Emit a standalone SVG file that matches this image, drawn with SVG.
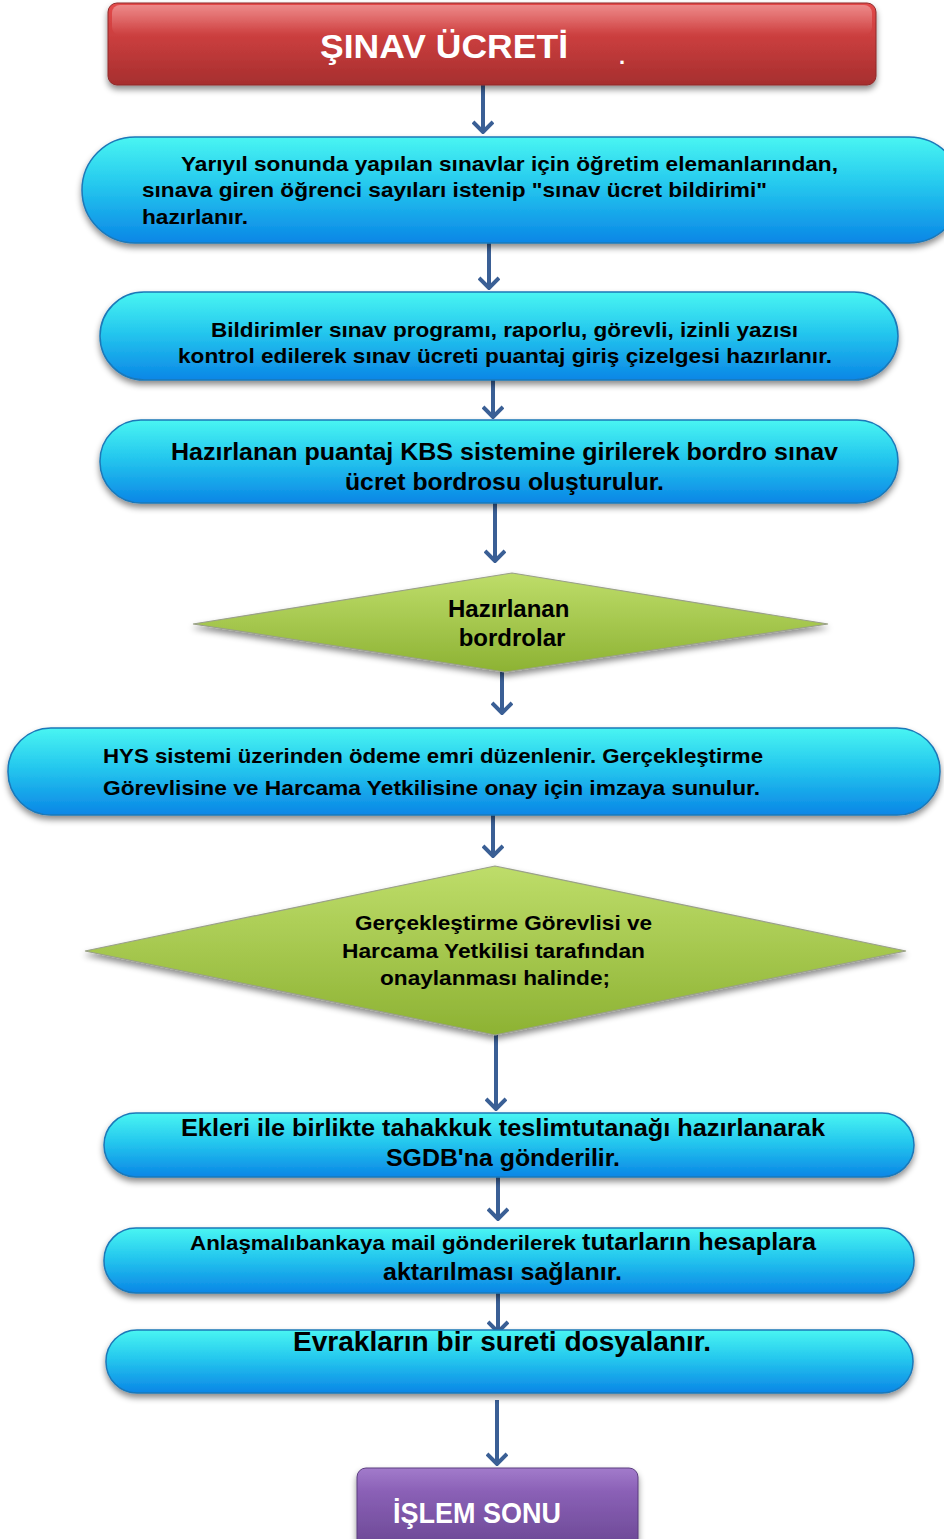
<svg xmlns="http://www.w3.org/2000/svg" width="944" height="1539" viewBox="0 0 944 1539">
  <defs>
    <linearGradient id="gBlue" x1="0" y1="0" x2="0" y2="1">
      <stop offset="0" stop-color="#49F5F2"/>
      <stop offset="0.45" stop-color="#25C8EE"/>
      <stop offset="1" stop-color="#0A86E6"/>
    </linearGradient>
    <linearGradient id="gRed" x1="0" y1="0" x2="0" y2="1">
      <stop offset="0" stop-color="#E44A4A"/>
      <stop offset="1" stop-color="#A62E2E"/>
    </linearGradient>
    <linearGradient id="gPurple" x1="0" y1="0" x2="0" y2="1">
      <stop offset="0" stop-color="#A27BCB"/>
      <stop offset="0.3" stop-color="#8A60B6"/>
      <stop offset="1" stop-color="#6B4894"/>
    </linearGradient>
    <linearGradient id="gGreen" x1="0" y1="0" x2="0" y2="1">
      <stop offset="0" stop-color="#BEDD6A"/>
      <stop offset="1" stop-color="#8DB233"/>
    </linearGradient>
    <linearGradient id="gShine" x1="0" y1="0" x2="0" y2="1">
      <stop offset="0" stop-color="#FFFFFF" stop-opacity="0.35"/>
      <stop offset="1" stop-color="#FFFFFF" stop-opacity="0"/>
    </linearGradient>
    <filter id="shadow" x="-5%" y="-20%" width="110%" height="150%">
      <feDropShadow dx="0" dy="4" stdDeviation="3" flood-color="#000" flood-opacity="0.45"/>
    </filter>
    <!-- open chevron head; drawn along +x so orient="auto" points it down the line -->
    <marker id="chev" viewBox="0 0 14 22" refX="12" refY="11" markerWidth="14" markerHeight="22" markerUnits="userSpaceOnUse" orient="auto">
      <polyline points="2,1 12,11 2,21" fill="none" stroke="#3A5F95" stroke-width="4"/>
    </marker>
    <style>
      .pill { fill: url(#gBlue); stroke: #1B78B8; stroke-width: 1.5; filter: url(#shadow); }
      .dia { fill: url(#gGreen); stroke: #9AA08A; stroke-width: 1.2; filter: url(#shadow); }
      .t { font-family: "Liberation Sans", Arial, sans-serif; font-weight: bold; fill: #000; }
      .w { font-family: "Liberation Sans", Arial, sans-serif; font-weight: bold; fill: #FFF; }
      .arr { stroke: #3A5F95; stroke-width: 4; fill: none; marker-end: url(#chev); }
    </style>
  </defs>

  <rect width="944" height="1539" fill="#FFFFFF"/>

  <!-- connectors -->
  <g id="connectors">
    <line class="arr" x1="483" y1="85" x2="483" y2="132"/>
    <line class="arr" x1="489" y1="243" x2="489" y2="288"/>
    <line class="arr" x1="493" y1="380" x2="493" y2="417"/>
    <line class="arr" x1="495" y1="503" x2="495" y2="561"/>
    <line class="arr" x1="502" y1="672" x2="502" y2="713"/>
    <line class="arr" x1="493" y1="815" x2="493" y2="856"/>
    <line class="arr" x1="496" y1="1035" x2="496" y2="1109"/>
    <line class="arr" x1="498" y1="1177" x2="498" y2="1219"/>
    <line class="arr" x1="498" y1="1293" x2="498" y2="1332"/>
    <line class="arr" x1="497" y1="1400" x2="497" y2="1464"/>
  </g>

  <!-- start -->
  <g id="n-start">
    <rect x="108" y="3" width="768" height="82" rx="9" fill="url(#gRed)" stroke="#8E2A2A" stroke-width="1" filter="url(#shadow)"/>
    <rect x="112" y="5" width="760" height="30" rx="8" fill="url(#gShine)"/>
    <text class="w" x="320" y="58" font-size="33" textLength="248" lengthAdjust="spacingAndGlyphs">ŞINAV ÜCRETİ</text>
    <text class="w" x="619" y="64" font-size="22">.</text>
  </g>

  <!-- step 1 -->
  <g id="n-step1">
    <rect class="pill" x="82" y="137" width="880" height="106" rx="53"/>
    <text class="t" font-size="21">
      <tspan x="181" y="171" textLength="657" lengthAdjust="spacingAndGlyphs">Yarıyıl sonunda yapılan sınavlar için öğretim elemanlarından,</tspan>
      <tspan x="142" y="197" textLength="625" lengthAdjust="spacingAndGlyphs">sınava giren öğrenci sayıları istenip "sınav ücret bildirimi"</tspan>
      <tspan x="142" y="224" textLength="106" lengthAdjust="spacingAndGlyphs">hazırlanır.</tspan>
    </text>
  </g>

  <!-- step 2 -->
  <g id="n-step2">
    <rect class="pill" x="100" y="292" width="798" height="88" rx="44"/>
    <text class="t" font-size="21">
      <tspan x="211" y="337" textLength="587" lengthAdjust="spacingAndGlyphs">Bildirimler sınav programı, raporlu, görevli, izinli yazısı</tspan>
      <tspan x="178" y="363" textLength="654" lengthAdjust="spacingAndGlyphs">kontrol edilerek sınav ücreti puantaj giriş çizelgesi hazırlanır.</tspan>
    </text>
  </g>

  <!-- step 3 -->
  <g id="n-step3">
    <rect class="pill" x="100" y="420" width="798" height="83" rx="41"/>
    <text class="t" font-size="24">
      <tspan x="171" y="460" textLength="667" lengthAdjust="spacingAndGlyphs">Hazırlanan puantaj KBS sistemine girilerek bordro sınav</tspan>
      <tspan x="345" y="490" textLength="319" lengthAdjust="spacingAndGlyphs">ücret bordrosu  oluşturulur.</tspan>
    </text>
  </g>

  <!-- decision 1 -->
  <g id="n-dec1">
    <polygon class="dia" points="193,624 512,573 828,624 505,672"/>
    <text class="t" font-size="24" text-anchor="middle">
      <tspan x="512" y="617">Hazırlanan</tspan>
      <tspan x="512" y="646">bordrolar</tspan>
    </text>
  </g>

  <!-- step 4 -->
  <g id="n-step4">
    <rect class="pill" x="8" y="728" width="932" height="87" rx="43"/>
    <text class="t" font-size="21">
      <tspan x="103" y="763" textLength="660" lengthAdjust="spacingAndGlyphs">HYS sistemi üzerinden ödeme emri düzenlenir. Gerçekleştirme</tspan>
      <tspan x="103" y="795" textLength="657" lengthAdjust="spacingAndGlyphs">Görevlisine ve Harcama Yetkilisine onay için imzaya sunulur.</tspan>
    </text>
  </g>

  <!-- decision 2 -->
  <g id="n-dec2">
    <polygon class="dia" points="85,951 495,866 906,951 495,1035"/>
    <text class="t" font-size="21">
      <tspan x="355" y="930" textLength="297" lengthAdjust="spacingAndGlyphs">Gerçekleştirme Görevlisi ve</tspan>
      <tspan x="342" y="958" textLength="303" lengthAdjust="spacingAndGlyphs">Harcama Yetkilisi tarafından</tspan>
      <tspan x="380" y="985" textLength="230" lengthAdjust="spacingAndGlyphs">onaylanması halinde;</tspan>
    </text>
  </g>

  <!-- step 5 -->
  <g id="n-step5">
    <rect class="pill" x="104" y="1113" width="810" height="64" rx="32"/>
    <text class="t" font-size="24">
      <tspan x="181" y="1136" textLength="644" lengthAdjust="spacingAndGlyphs">Ekleri ile birlikte tahakkuk teslimtutanağı hazırlanarak</tspan>
      <tspan x="386" y="1166" textLength="234" lengthAdjust="spacingAndGlyphs">SGDB'na gönderilir.</tspan>
    </text>
  </g>

  <!-- step 6 -->
  <g id="n-step6">
    <rect class="pill" x="104" y="1228" width="810" height="65" rx="32"/>
    <text class="t">
      <tspan x="190" y="1250" font-size="21" textLength="386" lengthAdjust="spacingAndGlyphs">Anlaşmalıbankaya mail gönderilerek</tspan>
      <tspan x="582" y="1250" font-size="24" textLength="234" lengthAdjust="spacingAndGlyphs">tutarların hesaplara</tspan>
      <tspan x="383" y="1280" font-size="24" textLength="239" lengthAdjust="spacingAndGlyphs">aktarılması sağlanır.</tspan>
    </text>
  </g>

  <!-- step 7 -->
  <g id="n-step7">
    <rect class="pill" x="106" y="1330" width="807" height="63" rx="31"/>
    <text class="t" x="293" y="1351" font-size="27" textLength="418" lengthAdjust="spacingAndGlyphs">Evrakların bir sureti dosyalanır.</text>
  </g>

  <!-- end -->
  <g id="n-end">
    <rect x="357" y="1468" width="281" height="80" rx="9" fill="url(#gPurple)" stroke="#5A3C7E" stroke-width="1" filter="url(#shadow)"/>
    <text class="w" x="393" y="1523" font-size="30" textLength="168" lengthAdjust="spacingAndGlyphs">İŞLEM SONU</text>
  </g>
</svg>
